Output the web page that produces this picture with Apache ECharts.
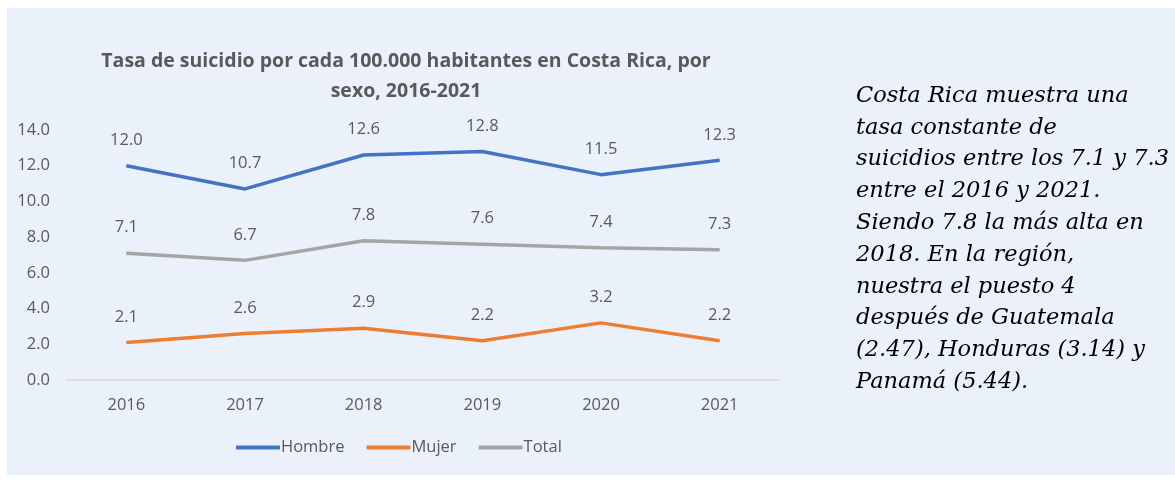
<!DOCTYPE html>
<html>
<head>
<meta charset="utf-8">
<script src="https://cdn.jsdelivr.net/npm/echarts@6/dist/echarts.min.js"></script>
<style>
  html, body { margin: 0; padding: 0; background: #ffffff; }
  #chart { width: 1175px; height: 482px; }
</style>
</head>
<body>
<div id="chart"></div>
<script>
// Suicide rate per 100,000 inhabitants in Costa Rica, by sex
const years = ['2016', '2017', '2018', '2019', '2020', '2021'];
const hombre = [12.0, 10.7, 12.6, 12.8, 11.5, 12.3];
const mujer = [2.1, 2.6, 2.9, 2.2, 3.2, 2.2];
const total = [7.1, 6.7, 7.8, 7.6, 7.4, 7.3];
const yTicks = { min: 0, max: 14, interval: 2 };

const titleText = 'Tasa de suicidio por cada 100.000 habitantes en Costa Rica, por\nsexo, 2016-2021';
const noteLines = [
  'Costa Rica muestra una',
  'tasa constante de',
  'suicidios entre los 7.1 y 7.3',
  'entre el 2016 y 2021.',
  'Siendo 7.8 la más alta en',
  '2018. En la región,',
  'nuestra el puesto 4',
  'después de Guatemala',
  '(2.47), Honduras (3.14) y',
  'Panamá (5.44).'
];

const labelColor = '#595959';
const uiFont = '"Open Sans", "Liberation Sans", sans-serif';

function lineSeries(name, data, color) {
  return {
    name: name,
    type: 'line',
    data: data,
    symbol: 'circle',
    symbolSize: 0.1,
    showSymbol: true,
    lineStyle: { color: color, width: 3.5 },
    itemStyle: { color: color },
    label: {
      show: true,
      position: 'top',
      distance: 17,
      color: labelColor,
      fontFamily: uiFont,
      fontSize: 16.5,
      formatter: p => p.value.toFixed(1)
    },
    emphasis: { disabled: true }
  };
}

const chart = echarts.init(document.getElementById('chart'));
chart.setOption({
  animation: false,
  backgroundColor: '#ffffff',
  title: {
    text: titleText,
    left: 401,
    top: 41,
    textAlign: 'center',
    textStyle: {
      color: labelColor,
      fontFamily: uiFont,
      fontWeight: 'bold',
      fontSize: 19.5,
      lineHeight: 30
    }
  },
  legend: {
    bottom: 21,
    left: 231,
    itemWidth: 44,
    itemHeight: 4,
    itemGap: 22,
    icon: 'roundRect',
    textStyle: { color: labelColor, fontFamily: uiFont, fontSize: 16.5, padding: [0, 0, 0, -4] },
    data: ['Hombre', 'Mujer', 'Total']
  },
  grid: { left: 67, right: 396, top: 130, bottom: 102 },
  xAxis: {
    type: 'category',
    data: years,
    boundaryGap: true,
    axisLine: { show: true, lineStyle: { color: '#d9d9d9', width: 1.5 } },
    axisTick: { show: false },
    axisLabel: { color: labelColor, fontFamily: uiFont, fontSize: 16.5, margin: 17 }
  },
  yAxis: {
    type: 'value',
    min: yTicks.min,
    max: yTicks.max,
    interval: yTicks.interval,
    splitLine: { show: false },
    axisLine: { show: false },
    axisTick: { show: false },
    axisLabel: {
      color: labelColor,
      fontFamily: uiFont,
      fontSize: 16.5,
      margin: 17,
      formatter: v => v.toFixed(1)
    }
  },
  graphic: [
    {
      type: 'rect',
      z: -10,
      silent: true,
      shape: { x: 7, y: 8, width: 1168, height: 467 },
      style: { fill: '#eaf1fa' }
    },
    {
      type: 'text',
      left: 856,
      top: 80,
      silent: true,
      style: {
        text: noteLines.join('\n'),
        fill: '#000000',
        font: 'italic 22.5px "DejaVu Serif", "Liberation Serif", serif',
        lineHeight: 31.8
      }
    }
  ],
  series: [
    lineSeries('Hombre', hombre, '#4472c4'),
    lineSeries('Mujer', mujer, '#ed7d31'),
    lineSeries('Total', total, '#a5a5a5')
  ]
});
</script>
</body>
</html>
